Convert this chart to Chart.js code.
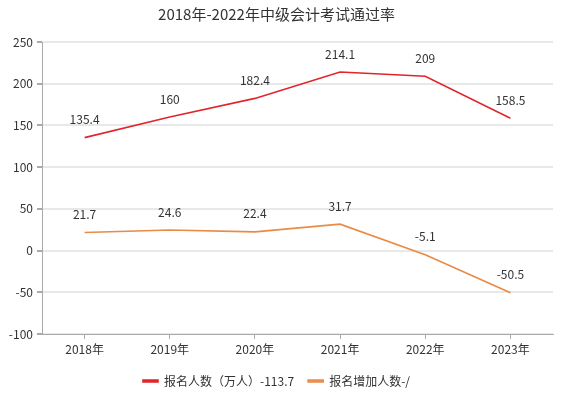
<!DOCTYPE html>
<html><head><meta charset="utf-8">
<script src="https://cdn.jsdelivr.net/npm/chart.js@4.4.1/dist/chart.umd.min.js"></script>
<style>html,body{margin:0;padding:0;background:#fff;}#wrap{width:563px;height:397px;}</style>
</head><body><div id="wrap"><canvas id="c" width="563" height="397"></canvas></div>
<script>
const categories = ['2018年','2019年','2020年','2021年','2022年','2023年'];
const applicants = [135.4,160,182.4,214.1,209,158.5];
const increase = [21.7,24.6,22.4,31.7,-5.1,-50.5];
const seriesNames = ['报名人数（万人）-113.7','报名增加人数-/'];
const titleText = '2018年-2022年中级会计考试通过率';
const yMin = -100, yMax = 250, yStep = 50;

const FONT = "'Noto Sans CJK SC','Noto Sans',sans-serif";
const labelPlugin = {
  id:'pointLabels',
  afterDatasetsDraw(chart){
    const ctx = chart.ctx;
    ctx.save();
    ctx.font = '12px ' + FONT;
    ctx.fillStyle = '#333';
    ctx.textAlign = 'center';
    ctx.textBaseline = 'bottom';
    chart.data.datasets.forEach((ds,i)=>{
      const meta = chart.getDatasetMeta(i);
      meta.data.forEach((pt,j)=>{
        ctx.fillText(String(ds.data[j]), pt.x, pt.y - 12);
      });
    });
    ctx.restore();
  }
};

new Chart(document.getElementById('c'), {
  type:'line',
  data:{
    labels:categories,
    datasets:[
      {label:seriesNames[0], data:applicants, borderColor:'#e0262b', backgroundColor:'#e0262b', borderWidth:1.6, pointRadius:0, tension:0},
      {label:seriesNames[1], data:increase, borderColor:'#e98a45', backgroundColor:'#e8a070', borderWidth:1.6, pointRadius:0, tension:0}
    ]
  },
  options:{
    responsive:false, animation:false, devicePixelRatio:1,
    layout:{padding:{left:0,right:10,top:0,bottom:0}},
    plugins:{
      title:{display:true,text:titleText,color:'#333',font:{family:FONT,size:15,weight:'normal'},padding:{top:5,bottom:19}},
      legend:{position:'bottom',labels:{color:'#333',font:{family:FONT,size:12},boxWidth:15,boxHeight:2,padding:14}},
      tooltip:{enabled:false}
    },
    scales:{
      x:{offset:true,
        grid:{drawOnChartArea:false,tickColor:'#aaa',tickLength:5},
        border:{color:'#aaa',width:1},
        ticks:{color:'#333',font:{family:FONT,size:12},padding:3,maxRotation:0},
        afterFit(s){s.height=27;}
      },
      y:{min:yMin,max:yMax,
        grid:{color:'#e8e8e8',lineWidth:2,tickColor:'#aaa',tickLength:5},
        border:{color:'#aaa',width:1},
        ticks:{stepSize:yStep,color:'#333',font:{family:FONT,size:12},padding:4},
        afterFit(s){s.width=42;}
      }
    }
  },
  plugins:[labelPlugin]
});
</script></body></html>
